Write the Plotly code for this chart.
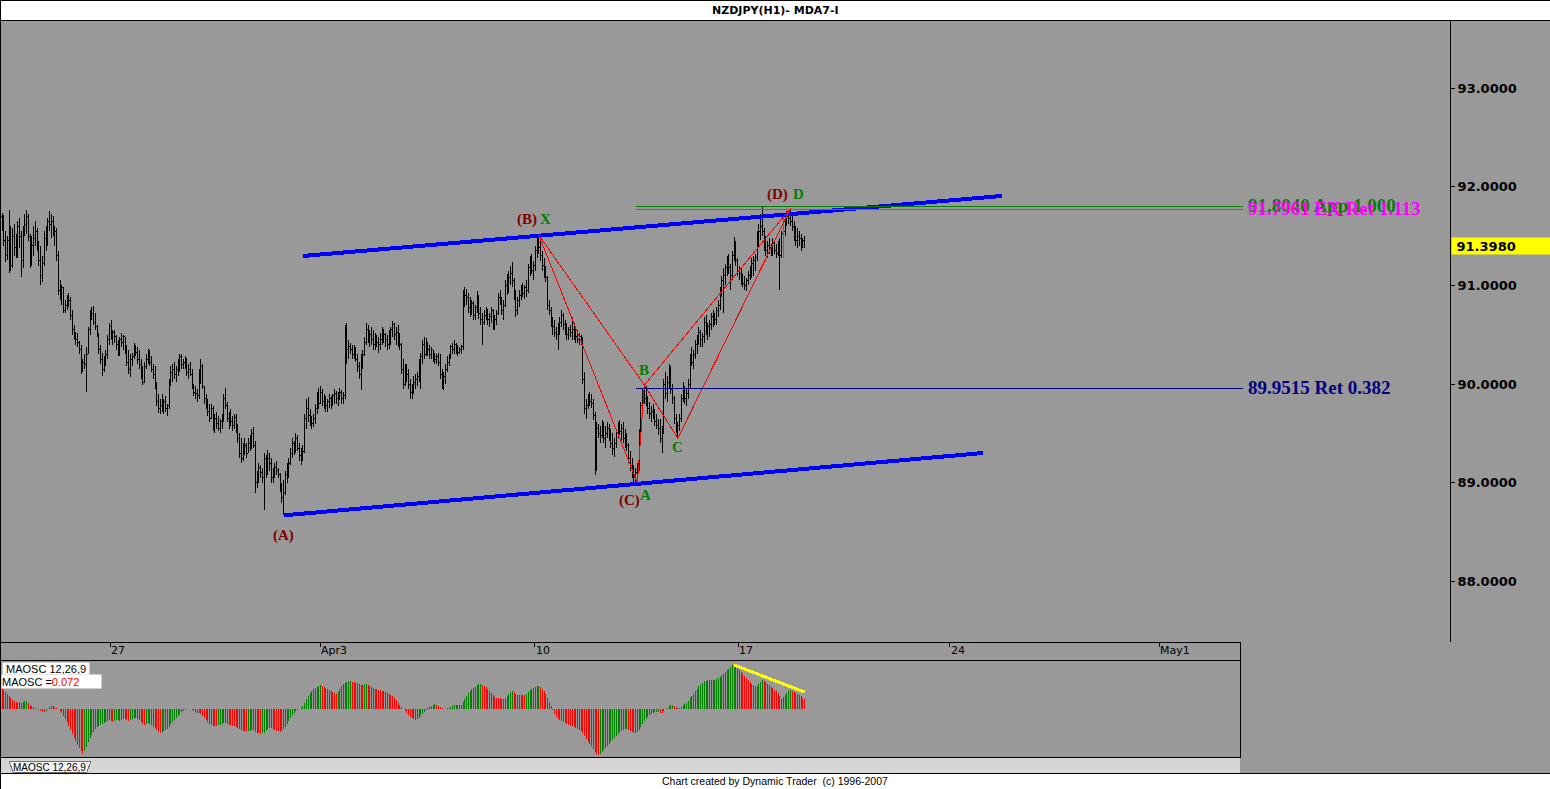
import plotly.graph_objects as go

W, H = 1550, 789

# ---------------- data ----------------
date_labels = ["27", "Apr3", "10", "17", "24", "May1"]
date_bar_pos = [61.4, 180.7, 302.8, 418.2, 538.6, 657.4]
price_ticks = [88, 89, 90, 91, 92, 93]

first_open = 91.70
high = [
91.73,91.71,91.55,91.50,91.76,91.60,91.58,91.62,91.52,91.65,
91.68,91.55,91.60,91.72,91.76,91.72,91.52,91.50,91.60,91.65,
91.58,91.45,91.40,91.30,91.55,91.60,91.68,91.75,91.72,91.70,
91.60,91.58,91.35,91.05,91.00,90.98,90.85,90.90,90.92,90.88,
90.75,90.60,90.50,90.52,90.44,90.40,90.25,90.30,90.38,90.58,
90.75,90.78,90.79,90.72,90.60,90.52,90.40,90.32,90.28,90.35,
90.50,90.62,90.65,90.55,90.55,90.50,90.45,90.48,90.52,90.50,
90.48,90.40,90.35,90.30,90.32,90.42,90.40,90.38,90.35,90.25,
90.18,90.22,90.30,90.36,90.35,90.28,90.20,90.18,90.02,89.90,
89.85,89.90,89.85,89.88,89.80,90.05,90.18,90.20,90.22,90.18,
90.25,90.31,90.30,90.25,90.28,90.26,90.20,90.22,90.15,90.00,
89.98,89.95,90.15,90.25,90.20,89.98,89.90,89.85,89.80,89.80,
89.78,89.70,89.72,89.68,89.65,89.70,89.90,89.96,89.82,89.72,
89.75,89.68,89.70,89.70,89.60,89.50,89.45,89.40,89.45,89.40,
89.45,89.48,89.55,89.57,89.42,89.12,89.20,89.18,89.15,89.30,
89.28,89.33,89.30,89.25,89.15,89.20,89.22,89.15,89.10,89.00,
89.03,89.12,89.20,89.25,89.35,89.45,89.42,89.50,89.48,89.40,
89.35,89.38,89.70,89.85,89.87,89.75,89.68,89.70,89.80,89.92,
89.96,89.98,89.95,89.90,89.88,89.85,89.90,89.88,89.90,89.95,
89.93,89.92,89.96,89.94,89.92,90.60,90.62,90.45,90.42,90.40,
90.40,90.38,90.30,90.22,90.30,90.35,90.48,90.62,90.60,90.55,
90.58,90.55,90.52,90.50,90.48,90.52,90.58,90.56,90.52,90.50,
90.55,90.58,90.64,90.62,90.58,90.60,90.52,90.42,90.25,90.20,
90.20,90.15,90.05,90.00,90.08,90.10,90.12,90.25,90.32,90.45,
90.48,90.47,90.42,90.40,90.38,90.35,90.32,90.30,90.32,90.30,
90.15,90.12,90.20,90.28,90.30,90.40,90.42,90.45,90.42,90.40,
90.38,90.40,90.95,90.98,90.96,90.92,90.88,90.85,90.84,90.80,
90.94,90.90,90.78,90.72,90.75,90.78,90.76,90.72,90.78,90.76,
90.70,90.75,90.92,90.95,90.88,90.85,91.05,91.12,91.15,91.20,
91.24,91.08,90.95,90.88,90.95,91.00,91.02,91.00,91.05,91.22,
91.30,91.32,91.25,91.40,91.48,91.51,91.45,91.35,91.28,91.20,
91.10,90.85,90.78,90.68,90.65,90.58,90.62,90.68,90.75,90.72,
90.65,90.62,90.58,90.60,90.68,90.62,90.58,90.55,90.52,90.50,
90.48,90.12,89.85,89.90,89.92,89.90,89.85,89.72,89.62,89.60,
89.58,89.64,89.62,89.58,89.62,89.60,89.55,89.50,89.45,89.55,
89.62,89.64,89.60,89.62,89.55,89.50,89.40,89.32,89.25,89.18,
89.15,89.20,89.55,89.82,89.96,90.00,89.98,89.88,89.82,89.78,
89.80,89.75,89.70,89.65,89.65,89.58,90.05,90.12,90.08,90.20,
90.18,90.00,89.88,89.70,89.62,89.70,89.90,90.02,89.98,89.95,
90.05,90.30,90.38,90.35,90.45,90.50,90.58,90.55,90.52,90.68,
90.70,90.62,90.65,90.72,90.75,90.72,90.78,90.85,90.98,91.10,
91.18,91.22,91.30,91.32,91.22,91.35,91.49,91.45,91.28,91.20,
91.18,91.12,91.10,91.08,91.15,91.20,91.28,91.30,91.32,91.55,
91.62,91.72,91.80,91.58,91.50,91.45,91.48,91.42,91.48,91.46,
91.42,91.45,91.48,91.55,91.71,91.68,91.75,91.77,91.78,91.72,
91.65,91.60,91.58,91.55,91.52,91.48,91.50]
low = [
91.55,91.40,91.24,91.26,91.13,91.15,91.18,91.30,91.28,91.28,
91.38,91.09,91.18,91.50,91.52,91.45,91.18,91.20,91.30,91.40,
91.35,91.20,91.00,91.03,91.20,91.35,91.40,91.55,91.48,91.50,
91.40,91.25,90.90,90.85,90.80,90.72,90.72,90.75,90.78,90.65,
90.50,90.45,90.40,90.38,90.30,90.10,90.12,90.15,89.92,90.30,
90.50,90.65,90.60,90.55,90.48,90.30,90.20,90.08,90.12,90.18,
90.25,90.40,90.45,90.40,90.42,90.35,90.28,90.28,90.38,90.35,
90.30,90.18,90.10,90.07,90.18,90.25,90.28,90.20,90.15,90.05,
89.99,90.05,90.15,90.20,90.18,90.12,90.05,89.95,89.78,89.71,
89.70,89.72,89.70,89.72,89.68,89.75,89.98,90.02,90.05,90.02,
90.08,90.12,90.15,90.15,90.15,90.08,90.05,90.08,89.95,89.88,
89.85,89.82,89.85,90.00,89.95,89.80,89.75,89.68,89.62,89.65,
89.52,89.50,89.55,89.52,89.50,89.55,89.62,89.75,89.62,89.55,
89.58,89.52,89.55,89.50,89.40,89.25,89.20,89.22,89.28,89.25,
89.30,89.32,89.35,89.35,88.90,88.95,89.00,89.05,89.00,88.72,
89.05,89.08,89.12,89.00,89.00,89.05,89.08,89.05,88.91,88.80,
88.67,88.88,89.00,89.05,89.18,89.25,89.28,89.30,89.32,89.22,
89.18,89.22,89.30,89.55,89.62,89.58,89.55,89.57,89.60,89.70,
89.75,89.82,89.78,89.75,89.72,89.72,89.76,89.75,89.78,89.80,
89.80,89.78,89.84,89.80,89.80,89.85,90.20,90.25,90.30,90.25,
90.25,90.22,90.12,90.05,89.94,90.15,90.28,90.40,90.42,90.38,
90.40,90.35,90.35,90.38,90.32,90.35,90.40,90.42,90.38,90.35,
90.36,90.40,90.48,90.45,90.40,90.38,90.35,90.10,89.95,89.98,
90.02,89.95,89.85,89.85,89.90,89.95,89.98,90.02,89.95,90.20,
90.25,90.28,90.28,90.25,90.25,90.22,90.20,90.20,90.18,90.05,
89.95,89.94,90.00,90.12,90.18,90.25,90.30,90.30,90.30,90.28,
90.30,90.30,90.35,90.78,90.80,90.72,90.68,90.70,90.65,90.65,
90.72,90.66,90.60,90.40,90.60,90.65,90.60,90.58,90.62,90.55,
90.55,90.60,90.70,90.80,90.70,90.65,90.78,90.90,90.92,91.00,
90.98,90.85,90.68,90.70,90.78,90.85,90.88,90.86,90.88,90.92,
91.10,91.12,91.05,91.15,91.28,91.32,91.25,91.15,91.08,91.03,
90.75,90.70,90.58,90.50,90.48,90.45,90.35,90.50,90.58,90.55,
90.50,90.45,90.45,90.48,90.45,90.45,90.42,90.42,90.40,90.40,
90.00,89.70,89.65,89.75,89.78,89.76,89.64,89.08,89.15,89.45,
89.40,89.45,89.40,89.35,89.45,89.42,89.35,89.28,89.26,89.35,
89.45,89.48,89.42,89.40,89.35,89.32,89.20,89.12,89.05,89.00,
89.00,89.00,89.12,89.45,89.72,89.80,89.78,89.70,89.65,89.62,
89.65,89.58,89.55,89.48,89.40,89.30,89.55,89.85,89.82,89.95,
89.90,89.80,89.60,89.50,89.45,89.52,89.62,89.82,89.80,89.78,
89.85,89.95,90.18,90.15,90.25,90.30,90.40,90.38,90.38,90.42,
90.50,90.45,90.48,90.55,90.58,90.60,90.60,90.68,90.75,90.88,
90.72,91.00,91.10,91.12,90.95,91.05,91.25,91.20,91.10,91.05,
91.00,90.98,90.95,90.94,91.00,91.05,91.08,91.10,91.15,91.25,
91.40,91.46,91.50,91.35,91.30,91.28,91.32,91.30,91.30,91.32,
91.28,91.30,90.95,91.28,91.28,91.50,91.60,91.62,91.60,91.55,
91.45,91.40,91.38,91.40,91.35,91.38,91.38]
close = [
91.60,91.45,91.30,91.45,91.55,91.20,91.50,91.38,91.35,91.60,
91.50,91.25,91.55,91.62,91.70,91.50,91.25,91.40,91.48,91.55,
91.40,91.25,91.10,91.22,91.48,91.45,91.65,91.62,91.65,91.60,
91.55,91.30,90.95,90.90,90.98,90.75,90.80,90.88,90.85,90.70,
90.55,90.52,90.45,90.42,90.35,90.15,90.22,90.20,90.30,90.55,
90.70,90.72,90.62,90.58,90.50,90.35,90.25,90.15,90.22,90.30,
90.45,90.58,90.50,90.52,90.48,90.40,90.30,90.45,90.42,90.48,
90.35,90.22,90.15,90.25,90.28,90.38,90.32,90.25,90.20,90.10,
90.02,90.18,90.25,90.30,90.22,90.15,90.10,90.00,89.82,89.75,
89.78,89.75,89.82,89.75,89.78,90.00,90.12,90.15,90.10,90.15,
90.20,90.28,90.20,90.22,90.18,90.12,90.15,90.10,89.98,89.92,
89.90,89.88,90.10,90.18,89.98,89.85,89.78,89.72,89.65,89.75,
89.58,89.65,89.60,89.55,89.62,89.65,89.85,89.78,89.65,89.68,
89.62,89.58,89.66,89.55,89.45,89.30,89.25,89.35,89.38,89.30,
89.40,89.35,89.50,89.38,89.00,89.08,89.15,89.10,89.05,89.25,
89.10,89.25,89.20,89.05,89.12,89.15,89.12,89.08,88.95,88.85,
88.90,89.08,89.15,89.20,89.30,89.40,89.35,89.45,89.35,89.28,
89.30,89.32,89.65,89.75,89.68,89.62,89.60,89.65,89.75,89.88,
89.80,89.92,89.82,89.85,89.78,89.82,89.85,89.80,89.88,89.90,
89.85,89.88,89.92,89.85,89.88,90.50,90.35,90.38,90.35,90.30,
90.35,90.25,90.18,90.10,90.25,90.30,90.42,90.55,90.48,90.50,
90.45,90.40,90.48,90.42,90.40,90.45,90.52,90.50,90.45,90.40,
90.50,90.55,90.60,90.50,90.52,90.45,90.40,90.15,90.00,90.15,
90.10,90.00,89.92,89.95,90.02,90.05,90.08,90.22,90.28,90.40,
90.30,90.42,90.35,90.30,90.35,90.28,90.25,90.28,90.22,90.10,
90.00,90.08,90.15,90.22,90.28,90.38,90.35,90.40,90.35,90.32,
90.35,90.38,90.85,90.90,90.88,90.78,90.75,90.82,90.70,90.78,
90.88,90.72,90.65,90.62,90.70,90.72,90.65,90.68,90.75,90.60,
90.65,90.72,90.88,90.85,90.75,90.80,91.00,90.95,91.08,91.12,
91.05,90.90,90.75,90.85,90.90,90.95,90.92,90.98,90.95,91.18,
91.25,91.15,91.20,91.35,91.40,91.38,91.30,91.20,91.12,91.08,
90.80,90.75,90.62,90.58,90.52,90.50,90.55,90.62,90.70,90.60,
90.58,90.50,90.55,90.52,90.55,90.50,90.48,90.45,90.48,90.45,
90.05,89.75,89.78,89.85,89.82,89.80,89.68,89.12,89.55,89.50,
89.48,89.58,89.45,89.50,89.55,89.48,89.40,89.35,89.40,89.50,
89.58,89.52,89.55,89.45,89.42,89.38,89.25,89.18,89.10,89.05,
89.10,89.15,89.50,89.78,89.90,89.85,89.82,89.75,89.70,89.72,
89.68,89.62,89.58,89.55,89.45,89.50,90.00,89.90,90.02,90.12,
89.95,89.85,89.65,89.55,89.58,89.65,89.85,89.95,89.85,89.90,
90.00,90.25,90.22,90.30,90.40,90.45,90.52,90.45,90.48,90.62,
90.55,90.58,90.60,90.68,90.70,90.65,90.75,90.80,90.92,91.05,
91.10,91.18,91.25,91.18,91.10,91.30,91.40,91.25,91.15,91.12,
91.08,91.02,91.00,91.05,91.10,91.15,91.22,91.25,91.28,91.50,
91.55,91.60,91.55,91.40,91.35,91.40,91.38,91.35,91.42,91.35,
91.32,91.40,91.30,91.53,91.55,91.65,91.70,91.68,91.65,91.60,
91.50,91.45,91.50,91.48,91.40,91.45,91.40]

maosc = [
.151,.137,.122,.108,.094,.079,.065,.058,.050,.043,
.050,.043,.050,.058,.058,.043,.029,.022,.014,.007,
.003,-.007,-.014,-.022,-.022,-.014,.002,.014,.022,.022,
.014,.007,-.002,-.014,-.029,-.050,-.072,-.094,-.122,-.151,
-.180,-.209,-.230,-.259,-.281,-.302,-.324,-.302,-.274,-.238,
-.209,-.187,-.166,-.144,-.130,-.122,-.115,-.108,-.101,-.094,
-.086,-.079,-.086,-.094,-.086,-.079,-.079,-.086,-.079,-.072,
-.072,-.079,-.086,-.079,-.072,-.065,-.065,-.072,-.079,-.094,
-.108,-.115,-.108,-.101,-.108,-.115,-.130,-.137,-.151,-.166,
-.173,-.166,-.158,-.151,-.144,-.130,-.108,-.094,-.079,-.065,
-.050,-.036,-.022,-.014,-.007,.002,.003,.002,-.007,-.014,
-.022,-.029,-.029,-.036,-.050,-.065,-.079,-.094,-.108,-.115,
-.122,-.122,-.122,-.115,-.115,-.108,-.101,-.101,-.108,-.115,
-.115,-.122,-.122,-.130,-.137,-.144,-.151,-.158,-.158,-.166,
-.158,-.158,-.151,-.151,-.166,-.173,-.173,-.180,-.173,-.173,
-.158,-.144,-.137,-.137,-.144,-.151,-.158,-.158,-.166,-.158,
-.144,-.130,-.108,-.086,-.065,-.043,-.029,-.014,-.007,.002,
.007,.022,.043,.072,.094,.115,.130,.144,.151,.158,
.166,.173,.166,.158,.151,.144,.137,.130,.122,.115,
.108,.122,.144,.166,.180,.187,.194,.202,.202,.194,
.194,.187,.187,.180,.173,.173,.180,.180,.173,.166,
.158,.151,.144,.144,.137,.137,.130,.130,.122,.115,
.108,.101,.094,.079,.065,.043,.029,.014,-.002,-.014,
-.029,-.043,-.058,-.065,-.072,-.079,-.072,-.065,-.050,-.036,
-.022,-.007,.007,.014,.022,.029,.036,.029,.022,.014,
.007,.002,.003,.007,.007,.014,.022,.029,.029,.029,
.029,.029,.050,.072,.094,.115,.130,.144,.151,.158,
.173,.180,.180,.173,.166,.158,.144,.130,.115,.101,
.086,.079,.079,.079,.072,.072,.079,.094,.108,.122,
.130,.122,.108,.101,.101,.101,.101,.101,.108,.122,
.137,.144,.151,.158,.166,.166,.158,.144,.130,.108,
.079,.050,.022,-.007,-.036,-.058,-.072,-.079,-.086,-.094,
-.101,-.108,-.115,-.122,-.122,-.130,-.137,-.144,-.151,-.158,
-.173,-.194,-.216,-.238,-.252,-.266,-.288,-.310,-.324,-.331,
-.324,-.310,-.295,-.281,-.266,-.252,-.238,-.223,-.209,-.194,
-.180,-.166,-.158,-.151,-.144,-.144,-.151,-.158,-.166,-.173,
-.173,-.166,-.151,-.130,-.108,-.086,-.072,-.058,-.043,-.036,
-.029,-.022,-.022,-.022,-.029,-.029,-.014,.002,.007,.022,
.029,.029,.022,.014,.007,.007,.014,.029,.036,.043,
.058,.079,.094,.108,.130,.144,.166,.173,.187,.202,
.202,.209,.209,.209,.209,.209,.216,.223,.230,.245,
.252,.266,.281,.288,.302,.317,.324,.317,.302,.281,
.266,.252,.238,.223,.209,.194,.180,.173,.166,.166,
.180,.194,.209,.202,.194,.180,.173,.158,.151,.137,
.130,.115,.094,.072,.086,.101,.115,.130,.137,.130,
.122,.115,.108,.101,.094,.079,.072]

last_price = 91.398
magenta_bar = 444

pattern_names = ["X", "A", "B", "C", "D"]
pattern_bar = [305, 361, 365, 384, 448]
pattern_price = [91.51, 89.00, 89.99, 89.45, 91.78]
pattern_segments = [("X", "A"), ("A", "B"), ("B", "C"), ("C", "D"), ("X", "B"), ("B", "D")]

wave_names = ["(A)", "(B)", "(C)", "(D)"]
wave_bar = [160, 305, 361, 432]
wave_price = [88.67, 91.51, 89.00, 91.80]

channel_upper_bar = [171, 568]
channel_upper_price = [91.298, 91.906]
channel_lower_bar = [160, 557.4]
channel_lower_price = [88.67, 89.302]

level_values = [91.8040, 91.7961, 89.9515]
level_texts = ["91.8040 App 1.000", "91.7961 EX Ret 1.113", "89.9515 Ret 0.382"]
level_start_bar = 360
level_end_bar = 705

osc_trend_bar = [416, 456]
osc_trend_val = [0.317, 0.122]

# ---------------- styles / layout helpers ----------------
BG = "#999999"
MAROON = "#800000"
GREEN = "#008000"
level_colors = ["#008000", "#FF00FF", "#000080"]
level_pixel_shift = [0, -3, 0]     # drawn offset (px) so the two close levels stay distinct
pattern_shift = {"X": (7, 16), "A": (8, -12), "B": (0, 15), "C": (0, -9), "D": (8, 14)}
wave_shift = {"(A)": (0, -20), "(B)": (-12, 16), "(C)": (-8, -18), "(D)": (15, 12)}


def pyv(p):
    return 1 - p / H


def pxv(p):
    return p / W


n = min(len(high), len(low), len(close), len(maosc))
idx = list(range(n))
opens = [first_open] + close[:n - 1]
hi = [max(high[i], opens[i], close[i]) for i in idx]
lo = [min(low[i], opens[i], close[i]) for i in idx]

# x mapping: bar i at pixel 2 + 1.76*i
BAR_PX = 1.76
x0_bar = -2 / BAR_PX
price_x_end = (1450 - 2) / BAR_PX
osc_x_end = (1240 - 2) / BAR_PX
px_per_price = 98.7
y_top = 93 + (88 - 21) / px_per_price
y_bot = 93 - (642 - 88) / px_per_price

fig = go.Figure()

black_idx = [i for i in idx if i != magenta_bar]
fig.add_trace(go.Ohlc(
    x=black_idx, open=[opens[i] for i in black_idx], high=[hi[i] for i in black_idx],
    low=[lo[i] for i in black_idx], close=[close[i] for i in black_idx],
    increasing=dict(line=dict(color="black", width=1)),
    decreasing=dict(line=dict(color="black", width=1)),
    tickwidth=0.5, hoverinfo="skip", showlegend=False, xaxis="x", yaxis="y"))
fig.add_trace(go.Ohlc(
    x=[magenta_bar], open=[opens[magenta_bar]], high=[hi[magenta_bar]],
    low=[lo[magenta_bar]], close=[close[magenta_bar]],
    increasing=dict(line=dict(color="#FF00FF", width=1)),
    decreasing=dict(line=dict(color="#FF00FF", width=1)),
    tickwidth=0.5, hoverinfo="skip", showlegend=False, xaxis="x", yaxis="y"))

# channel lines
for bx, by in [(channel_upper_bar, channel_upper_price), (channel_lower_bar, channel_lower_price)]:
    fig.add_trace(go.Scatter(x=bx, y=by, mode="lines", line=dict(color="#0000FF", width=4),
                             hoverinfo="skip", showlegend=False, xaxis="x", yaxis="y"))

# pattern lines
pmap = {nm: (b, p) for nm, b, p in zip(pattern_names, pattern_bar, pattern_price)}
for a, b in pattern_segments:
    fig.add_trace(go.Scatter(x=[pmap[a][0], pmap[b][0]], y=[pmap[a][1], pmap[b][1]], mode="lines",
                             line=dict(color="#FF0000", width=1), hoverinfo="skip",
                             showlegend=False, xaxis="x", yaxis="y"))

# oscillator (1px bars, colour by direction)
osc_colors = []
for k, v in enumerate(maosc[:n]):
    if k == 0:
        osc_colors.append("rgba(255,0,0,0.99)")
    elif v > maosc[k - 1]:
        osc_colors.append("rgba(0,128,0,0.99)")
    elif v < maosc[k - 1]:
        osc_colors.append("rgba(255,0,0,0.99)")
    else:
        osc_colors.append(osc_colors[-1])
fig.add_trace(go.Bar(x=idx, y=maosc[:n], marker=dict(color=osc_colors, line=dict(width=0)),
                     width=1 / BAR_PX, hoverinfo="skip", showlegend=False, xaxis="x2", yaxis="y2"))
fig.add_trace(go.Scatter(x=osc_trend_bar, y=osc_trend_val, mode="lines",
                         line=dict(color="#FFFF00", width=3), hoverinfo="skip",
                         showlegend=False, xaxis="x2", yaxis="y2"))
fig.add_trace(go.Scatter(x=[], y=[], xaxis="x3", yaxis="y3", showlegend=False))

annotations = []
serif = "Liberation Serif"
for txt, val, col, ys in zip(level_texts, level_values, level_colors, level_pixel_shift):
    annotations.append(dict(x=level_end_bar + 2, y=val, xref="x", yref="y",
                            text=txt, showarrow=False, xanchor="left",
                            yanchor="middle", yshift=ys + 1,
                            font=dict(family=serif, size=19, color=col, weight="bold")))
for nm in pattern_names:
    b, p = pmap[nm]
    dx, dy = pattern_shift[nm]
    annotations.append(dict(x=b, y=p, xref="x", yref="y", text=nm, showarrow=False,
                            xshift=dx, yshift=dy, xanchor="center", yanchor="middle",
                            font=dict(family=serif, size=15, color=GREEN, weight="bold")))
for nm, b, p in zip(wave_names, wave_bar, wave_price):
    dx, dy = wave_shift[nm]
    annotations.append(dict(x=b, y=p, xref="x", yref="y", text=nm, showarrow=False,
                            xshift=dx, yshift=dy, xanchor="center", yanchor="middle",
                            font=dict(family=serif, size=15, color=MAROON, weight="bold")))

# current price box
annotations.append(dict(x=pxv(1450.5), y=last_price, xref="paper", yref="y",
                        text="\u00a0" + f"{last_price:.4f}", showarrow=False, xanchor="left",
                        yanchor="middle", bgcolor="#FFFF00", width=99, height=16, align="left",
                        borderpad=0,
                        font=dict(family="DejaVu Sans", size=13, color="black", weight="bold")))

# title, footer, indicator labels
annotations.append(dict(x=0.5, y=pyv(10), xref="paper", yref="paper", text="NZDJPY(H1)- MDA7-I",
                        showarrow=False, xanchor="center", yanchor="middle",
                        font=dict(family="DejaVu Sans", size=11, color="black", weight="bold")))
annotations.append(dict(x=0.5, y=pyv(781), xref="paper", yref="paper",
                        text="Chart created by Dynamic Trader  (c) 1996-2007",
                        showarrow=False, xanchor="center", yanchor="middle",
                        font=dict(family="Liberation Sans", size=10.5, color="black")))
annotations.append(dict(x=pxv(2), y=pyv(668), xref="paper", yref="paper", text=" MAOSC 12,26,9",
                        showarrow=False, xanchor="left", yanchor="middle", bgcolor="white",
                        borderpad=0, width=86, height=11, align="left",
                        font=dict(family="Liberation Sans", size=11, color="black")))
annotations.append(dict(x=pxv(1), y=pyv(681), xref="paper", yref="paper",
                        text="MAOSC =<span style='color:#FF0000'>" + f"{maosc[n-1]:.3f}" + "</span>",
                        showarrow=False, xanchor="left", yanchor="middle", bgcolor="white",
                        borderpad=0, width=99, height=13, align="left",
                        font=dict(family="Liberation Sans", size=11, color="black")))
annotations.append(dict(x=pxv(49), y=pyv(767), xref="paper", yref="paper", text="MAOSC 12,26,9",
                        showarrow=False, xanchor="center", yanchor="middle",
                        font=dict(family="Liberation Sans", size=10, color="black")))

shapes = [
    dict(type="rect", xref="paper", yref="paper", x0=0, x1=1, y0=pyv(20.5), y1=1,
         fillcolor="white", line=dict(color="black", width=1), layer="below"),
    dict(type="rect", xref="paper", yref="paper", x0=0, x1=pxv(1240), y0=pyv(773), y1=pyv(758),
         fillcolor="#d6d6d6", line=dict(width=0), layer="below"),
    dict(type="path", xref="paper", yref="paper",
         path=f"M {pxv(9)},{pyv(761)} L {pxv(91)},{pyv(761)} L {pxv(87)},{pyv(772)} L {pxv(13)},{pyv(772)} Z",
         fillcolor="#f4f4f4", line=dict(color="#707070", width=1), layer="below"),
    dict(type="rect", xref="paper", yref="paper", x0=0, x1=1, y0=0, y1=pyv(773.5),
         fillcolor="white", line=dict(color="black", width=1), layer="below"),
    dict(type="line", xref="paper", yref="paper", x0=pxv(0.5), x1=pxv(0.5), y0=pyv(773), y1=pyv(20),
         line=dict(color="black", width=1)),
]
# Fibonacci level lines (value-anchored, small pixel offset for the overlapping pair)
for val, col, ys in zip(level_values, level_colors, level_pixel_shift):
    shapes.append(dict(type="line", xref="x", yref="y", x0=level_start_bar, x1=level_end_bar,
                       ysizemode="pixel", yanchor=val, y0=ys, y1=ys,
                       line=dict(color=col, width=1), layer="above"))

fig.update_layout(
    width=W, height=H, margin=dict(l=0, r=0, t=0, b=0, pad=0),
    paper_bgcolor=BG, plot_bgcolor=BG, showlegend=False, bargap=0,
    xaxis=dict(domain=[0, pxv(1450)], range=[x0_bar, price_x_end], anchor="y",
               visible=False, rangeslider=dict(visible=False), fixedrange=True),
    yaxis=dict(domain=[pyv(642), pyv(21)], range=[y_bot, y_top], anchor="x", side="right",
               showline=True, linecolor="black", linewidth=1, ticks="outside", ticklen=4,
               tickcolor="black", tickvals=price_ticks, tickformat=".4f", showgrid=False,
               zeroline=False, fixedrange=True,
               tickfont=dict(family="DejaVu Sans", size=13, color="black", weight="bold")),
    xaxis2=dict(domain=[0, pxv(1240)], range=[x0_bar, osc_x_end], anchor="y2",
                showline=True, mirror=True, linecolor="black", linewidth=1,
                showticklabels=False, ticks="", showgrid=False, zeroline=False, fixedrange=True),
    yaxis2=dict(domain=[pyv(757), pyv(661)], range=[-0.346, 0.346], anchor="x2",
                showline=True, mirror=True, linecolor="black", linewidth=1,
                showticklabels=False, ticks="", showgrid=False, zeroline=False, fixedrange=True),
    xaxis3=dict(domain=[0, pxv(1240)], range=[x0_bar, osc_x_end], anchor="y3", side="top",
                showline=True, linecolor="black", linewidth=1, ticks="inside", ticklen=4,
                tickcolor="black", tickvals=date_bar_pos, ticktext=date_labels,
                ticklabelposition="inside right", showgrid=False, zeroline=False, fixedrange=True,
                tickfont=dict(family="DejaVu Sans", size=11, color="black")),
    yaxis3=dict(domain=[pyv(660), pyv(643)], range=[0, 1], anchor="x3",
                showline=True, mirror=True, linecolor="black", linewidth=1,
                showticklabels=False, ticks="", showgrid=False, zeroline=False, fixedrange=True),
    annotations=annotations, shapes=shapes,
)

post = (
    "document.body.style.margin='0';document.body.style.overflow='hidden';"
    "var s=document.createElement('style');"
    "s.innerHTML='.main-svg path{shape-rendering:crispEdges}';"
    "document.head.appendChild(s);"
)
fig.write_html("out.html", config={"displayModeBar": False}, post_script=post)
